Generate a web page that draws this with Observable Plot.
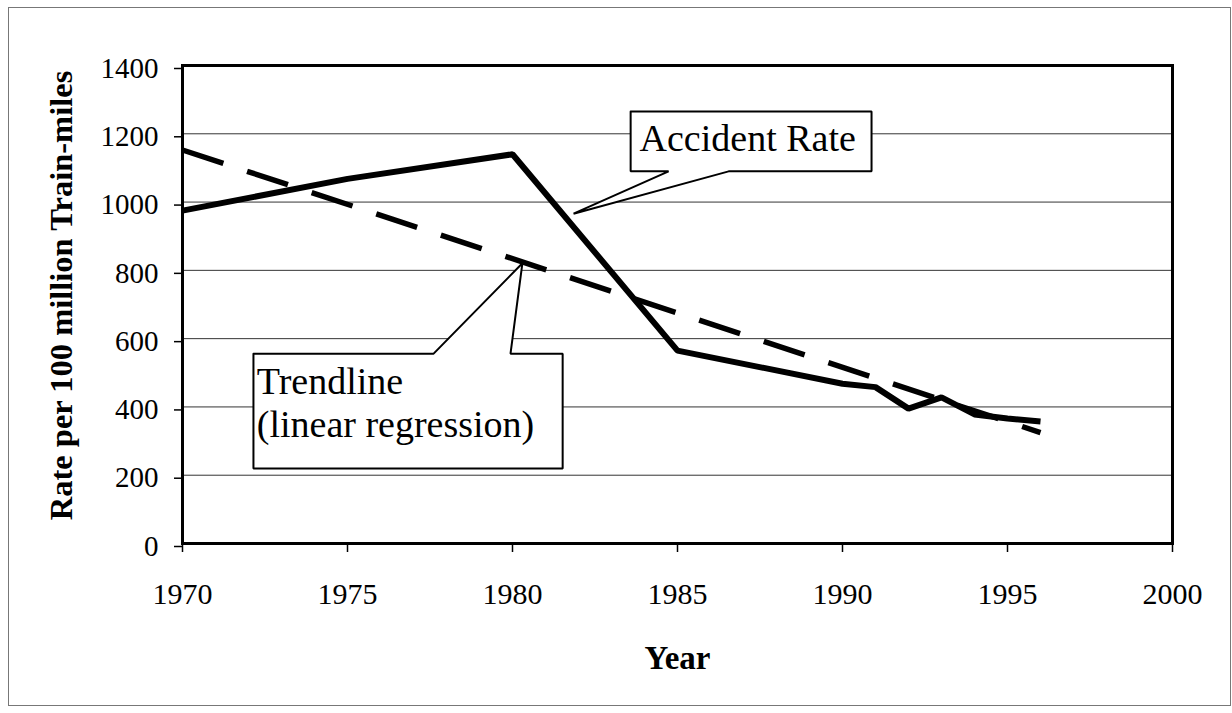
<!DOCTYPE html>
<html><head><meta charset="utf-8">
<script src="https://cdn.jsdelivr.net/npm/d3@7"></script>
<script src="https://cdn.jsdelivr.net/npm/@observablehq/plot@0.6"></script>
<style>body{margin:0;background:#fff} svg{display:block} svg text{font-family:"Liberation Serif", serif !important;}</style>
</head><body><div id="chart"></div>
<script>
// Data
const years = [1970, 1975, 1980, 1985, 1990, 1991, 1992, 1993, 1994, 1995, 1996];
const rates = [975, 1068, 1140, 565, 468, 458, 395, 428, 378, 366, 357];
const xTicks = [1970, 1975, 1980, 1985, 1990, 1995, 2000];
const yTicks = [0, 200, 400, 600, 800, 1000, 1200, 1400];
const gridValues = [200, 400, 600, 800, 1000, 1200];

// Callout outlines (data coordinates: year, rate)
const accidentCalloutX = [1983.58, 1990.88, 1990.88, 1986.55, 1981.85, 1984.73, 1983.58, 1983.58];
const accidentCalloutY = [1265, 1265, 1090, 1090, 966, 1090, 1090, 1265];
const trendCalloutX = [1972.15, 1977.61, 1980.30, 1979.94, 1981.52, 1981.52, 1972.15, 1972.15];
const trendCalloutY = [556, 556, 821, 556, 556, 220, 220, 556];

const labelTexts = ["Accident Rate", "Trendline", "(linear regression)"];
const labelX = [1983.85, 1972.25, 1972.25];
const labelY = [1150, 437, 311];

const FONT = "Liberation Serif";

const data = years.map((y, i) => ({year: y, rate: rates[i]}));
const callouts = [
  ...accidentCalloutX.map((x, i) => ({id: "a", x, y: accidentCalloutY[i]})),
  ...trendCalloutX.map((x, i) => ({id: "t", x, y: trendCalloutY[i]}))
];
const labels = labelTexts.map((t, i) => ({t, x: labelX[i], y: labelY[i]}));

const chart = Plot.plot({
  width: 1232,
  height: 713,
  marginLeft: 182,
  marginRight: 60,
  marginTop: 65,
  marginBottom: 170,
  style: {fontFamily: FONT, background: "#fff", color: "#000"},
  x: {domain: [1970, 2000]},
  y: {domain: [0, 1400]},
  marks: [
    Plot.gridY(gridValues, {stroke: "#111", strokeOpacity: 0.85, strokeWidth: 1}),
    Plot.frame({stroke: "#000", strokeWidth: 3}),
    Plot.linearRegressionY(data, {x: "year", y: "rate", ci: 0, stroke: "#000", strokeWidth: 5.5, strokeDasharray: "43,25", strokeLinecap: "butt"}),
    Plot.line(data, {x: "year", y: "rate", stroke: "#000", strokeWidth: 6, strokeLinejoin: "miter", strokeLinecap: "butt"}),
    Plot.line(callouts, {x: "x", y: "y", z: "id", fill: "#fff", stroke: "#000", strokeWidth: 2, strokeLinejoin: "miter"}),
    Plot.text(labels, {x: "x", y: "y", text: "t", textAnchor: "start", lineAnchor: "bottom", fontSize: 38, fontFamily: FONT, fill: "#000"}),
    Plot.axisX({ticks: xTicks, tickFormat: "d", tickSize: 9, tickPadding: 30, fontSize: 30, fontFamily: FONT, label: null, strokeWidth: 1.5}),
    Plot.axisY({ticks: yTicks, tickFormat: "d", tickSize: 8, tickPadding: 16, fontSize: 29, fontFamily: FONT, label: null, strokeWidth: 1.5, dy: 3}),
    Plot.text(["Rate per 100 million Train-miles"], {frameAnchor: "left", rotate: -90, dx: -121, dy: -9, text: d => d, fontSize: 32.5, fontFamily: FONT, fontWeight: "bold", lineAnchor: "middle", textAnchor: "middle"}),
    Plot.text(["Year"], {frameAnchor: "bottom", dy: 115, text: d => d, fontSize: 33, fontFamily: FONT, fontWeight: "bold", lineAnchor: "middle", textAnchor: "middle"})
  ]
});

d3.select(chart).append("rect")
  .attr("x", 8.5).attr("y", 7.5).attr("width", 1222).attr("height", 698)
  .attr("fill", "none").attr("stroke", "#777").attr("stroke-width", 1);

document.getElementById("chart").appendChild(chart);
</script>
</body></html>
